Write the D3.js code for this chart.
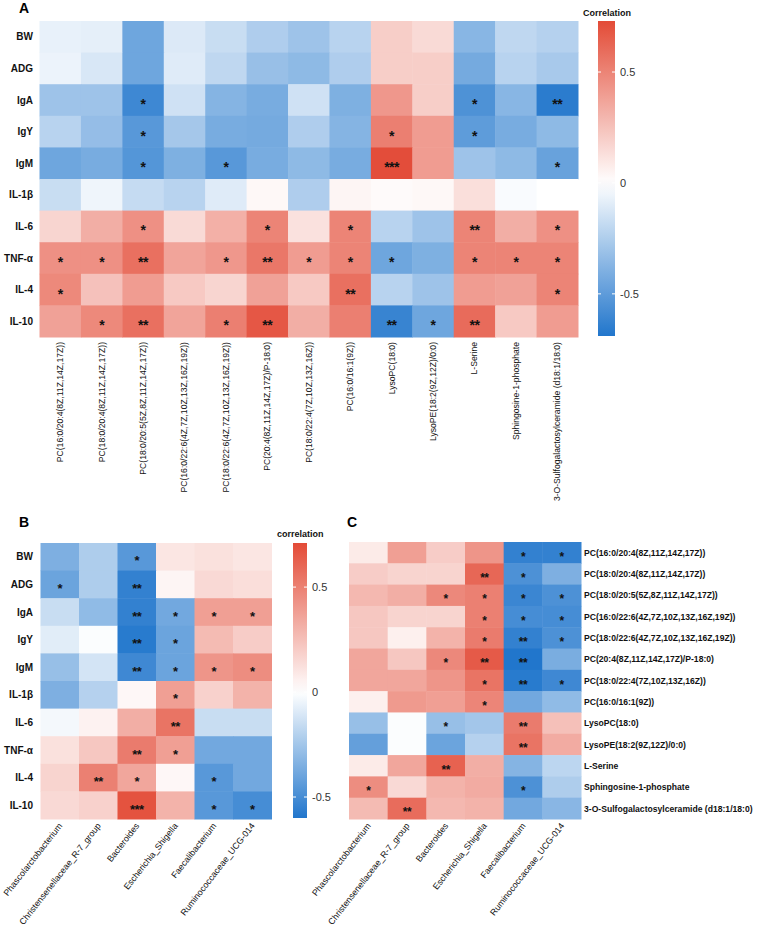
<!DOCTYPE html>
<html><head><meta charset="utf-8">
<script src="https://cdn.jsdelivr.net/npm/d3@7"></script>
<style>
body{margin:0;background:#fff;}
text{font-family:"Liberation Sans",Arial,sans-serif;}
</style></head>
<body>
<svg id="chart" width="757" height="937"></svg>
<script>
// ---------- DATA ----------
const hostRows = ["BW","ADG","IgA","IgY","IgM","IL-1β","IL-6","TNF-α","IL-4","IL-10"];
const metabolites = [
  "PC(16:0/20:4(8Z,11Z,14Z,17Z))",
  "PC(18:0/20:4(8Z,11Z,14Z,17Z))",
  "PC(18:0/20:5(5Z,8Z,11Z,14Z,17Z))",
  "PC(16:0/22:6(4Z,7Z,10Z,13Z,16Z,19Z))",
  "PC(18:0/22:6(4Z,7Z,10Z,13Z,16Z,19Z))",
  "PC(20:4(8Z,11Z,14Z,17Z)/P-18:0)",
  "PC(18:0/22:4(7Z,10Z,13Z,16Z))",
  "PC(16:0/16:1(9Z))",
  "LysoPC(18:0)",
  "LysoPE(18:2(9Z,12Z)/0:0)",
  "L-Serine",
  "Sphingosine-1-phosphate",
  "3-O-Sulfogalactosylceramide (d18:1/18:0)"
];
const bacteria = ["Phascolarctobacterium","Christensenellaceae_R-7_group","Bacteroides","Escherichia_Shigella","Faecalibacterium","Ruminococcaceae_UCG-014"];

// Panel A: rows = hostRows, cols = metabolites
const valuesA = [
  [-0.07,-0.08,-0.45,-0.11,-0.17,-0.25,-0.30,-0.22, 0.20, 0.15,-0.37,-0.20,-0.23],
  [-0.06,-0.12,-0.45,-0.10,-0.20,-0.32,-0.35,-0.25, 0.20, 0.20,-0.43,-0.22,-0.27],
  [-0.30,-0.30,-0.60,-0.15,-0.38,-0.42,-0.15,-0.40, 0.42, 0.20,-0.55,-0.37,-0.66],
  [-0.22,-0.33,-0.52,-0.28,-0.42,-0.43,-0.25,-0.38, 0.52, 0.40,-0.50,-0.42,-0.35],
  [-0.45,-0.42,-0.53,-0.40,-0.52,-0.42,-0.35,-0.42, 0.72, 0.40,-0.30,-0.35,-0.47],
  [-0.17,-0.05,-0.18,-0.22,-0.10, 0.03,-0.25, 0.04, 0.02, 0.03, 0.13,-0.02, 0.00],
  [ 0.17, 0.33, 0.45, 0.15, 0.32, 0.50, 0.12, 0.50,-0.22,-0.30, 0.50, 0.33, 0.45],
  [ 0.45, 0.45, 0.58, 0.37, 0.42, 0.55, 0.40, 0.50,-0.45,-0.40, 0.50, 0.50, 0.50],
  [ 0.48, 0.25, 0.40, 0.22, 0.17, 0.38, 0.22, 0.58,-0.22,-0.30, 0.40, 0.38, 0.50],
  [ 0.38, 0.48, 0.58, 0.37, 0.52, 0.68, 0.33, 0.52,-0.62,-0.45, 0.60, 0.22, 0.40]
];
const starsA = [
  ["","","","","","","","","","","","",""],
  ["","","","","","","","","","","","",""],
  ["","","*","","","","","","","","*","","**"],
  ["","","*","","","","","","*","","*","",""],
  ["","","*","","*","","","","***","","","","*"],
  ["","","","","","","","","","","","",""],
  ["","","*","","","*","","*","","","**","","*"],
  ["*","*","**","","*","**","*","*","*","","*","*","*"],
  ["*","","","","","","","**","","","","","*"],
  ["","*","**","","*","**","","","**","*","**","",""]
];

// Panel B: rows = hostRows, cols = bacteria
const valuesB = [
  [-0.35,-0.22,-0.45, 0.10, 0.12, 0.10],
  [-0.40,-0.22,-0.55, 0.04, 0.15, 0.13],
  [-0.15,-0.30,-0.55,-0.38, 0.38, 0.38],
  [-0.08,-0.01,-0.58,-0.40, 0.27, 0.20],
  [-0.28,-0.12,-0.52,-0.40, 0.42, 0.45],
  [-0.35,-0.20, 0.03, 0.38, 0.18, 0.30],
  [-0.03, 0.05, 0.32, 0.55,-0.15,-0.15],
  [ 0.12, 0.22, 0.52, 0.38,-0.38,-0.38],
  [ 0.17, 0.50, 0.35, 0.03,-0.45,-0.38],
  [ 0.15, 0.18, 0.68, 0.30,-0.45,-0.50]
];
const starsB = [
  ["","","*","","",""],
  ["*","","**","","",""],
  ["","","**","*","*","*"],
  ["","","**","*","",""],
  ["","","**","*","*","*"],
  ["","","","*","",""],
  ["","","","**","",""],
  ["","","**","*","",""],
  ["","**","*","","*",""],
  ["","","***","","*","*"]
];

// Panel C: rows = metabolites, cols = bacteria
const valuesC = [
  [ 0.08, 0.38, 0.20, 0.42,-0.55,-0.55],
  [ 0.20, 0.17, 0.17, 0.60,-0.48,-0.35],
  [ 0.28, 0.32, 0.47, 0.50,-0.53,-0.48],
  [ 0.22, 0.17, 0.17, 0.50,-0.50,-0.50],
  [ 0.22, 0.06, 0.30, 0.52,-0.55,-0.48],
  [ 0.35, 0.22, 0.47, 0.65,-0.60,-0.36],
  [ 0.35, 0.35, 0.42, 0.55,-0.58,-0.52],
  [ 0.06, 0.40, 0.38, 0.48,-0.38,-0.30],
  [-0.28,-0.01,-0.28,-0.25, 0.52, 0.25],
  [-0.42,-0.01,-0.40,-0.20, 0.55, 0.33],
  [ 0.08, 0.35, 0.62, 0.32,-0.33,-0.18],
  [ 0.45, 0.15, 0.30, 0.33,-0.48,-0.22],
  [ 0.27, 0.58, 0.28, 0.30,-0.38,-0.32]
];
const starsC = [
  ["","","","","*","*"],
  ["","","","**","*",""],
  ["","","*","*","*","*"],
  ["","","","*","*","*"],
  ["","","","*","**","*"],
  ["","","*","**","**",""],
  ["","","","*","**","*"],
  ["","","","*","",""],
  ["","","*","","**",""],
  ["","","","","**",""],
  ["","","**","","",""],
  ["*","","","","*",""],
  ["","**","","","",""]
];

const legendA = {title:"Correlation", min:-0.69, max:0.73, ticks:[-0.5,0,0.5]};
const legendB = {title:"correlation", min:-0.60, max:0.71, ticks:[-0.5,0,0.5]};

// ---------- DRAW ----------
const svg = d3.select("#chart");
const BLUE = "#2176CC", RED = "#E34B37";
function colorScale(min,max){
  return d3.scaleLinear().domain([min,0,max]).range([BLUE,"#FFFFFF",RED]).interpolate(d3.interpolateRgb).clamp(true);
}

function heatmap(opts){
  const {rows, cols, values, stars, x0, x1, y0, y1, color} = opts;
  const x = d3.scaleBand().domain(d3.range(cols.length)).range([x0,x1]);
  const y = d3.scaleBand().domain(d3.range(rows.length)).range([y0,y1]);
  const g = svg.append("g");
  rows.forEach((r,i)=>{
    cols.forEach((c,j)=>{
      g.append("rect").attr("x",x(j)).attr("y",y(i))
        .attr("width",x.bandwidth()+0.5).attr("height",y.bandwidth()+0.5)
        .attr("fill",color(values[i][j]));
    });
  });
  rows.forEach((r,i)=>{
    cols.forEach((c,j)=>{
      if(stars[i][j]){
        g.append("text").attr("x",x(j)+x.bandwidth()/2).attr("y",y(i)+y.bandwidth()/2+opts.starDy)
          .attr("text-anchor","middle").attr("font-size",opts.starSize).attr("font-weight","bold")
          .attr("letter-spacing",-0.5).attr("fill","#111").text(stars[i][j]);
      }
    });
  });
  return {x,y,g};
}

function colorbar(o){
  const {x0,w,y0,y1,min,max,title,ticks,id,titleX,titleY,color} = o;
  const ys = d3.scaleLinear().domain([min,max]).range([y1,y0]);
  const grad = svg.append("defs").append("linearGradient").attr("id",id)
    .attr("x1",0).attr("y1",1).attr("x2",0).attr("y2",0);
  d3.range(0,1.0001,0.05).forEach(t=>{
    const v = min + t*(max-min);
    grad.append("stop").attr("offset",t).attr("stop-color",color(v));
  });
  svg.append("rect").attr("x",x0).attr("y",y0).attr("width",w).attr("height",y1-y0)
    .attr("fill",`url(#${id})`);
  ticks.forEach(t=>{
    const yy = ys(t);
    svg.append("line").attr("x1",x0).attr("x2",x0+3).attr("y1",yy).attr("y2",yy).attr("stroke","#fff").attr("stroke-width",1);
    svg.append("line").attr("x1",x0+w-3).attr("x2",x0+w).attr("y1",yy).attr("y2",yy).attr("stroke","#fff").attr("stroke-width",1);
    svg.append("text").attr("x",x0+w+5).attr("y",yy+4).attr("font-size",11).attr("fill","#333").text(t);
  });
  svg.append("text").attr("x",titleX).attr("y",titleY).attr("font-size",9).attr("font-weight","bold").attr("fill","#111").text(title);
}

// Panel A
const colA = colorScale(legendA.min, legendA.max);
const A = heatmap({rows:hostRows, cols:metabolites, values:valuesA, stars:starsA, x0:39.5, x1:578, y0:21, y1:337, color:colA, starSize:14, starDy:9});
hostRows.forEach((r,i)=>{
  svg.append("text").attr("x",33).attr("y",A.y(i)+A.y.bandwidth()/2+3.5)
    .attr("text-anchor","end").attr("font-size",10).attr("font-weight","bold").attr("fill","#111").text(r);
});
metabolites.forEach((m,j)=>{
  const cx = A.x(j)+A.x.bandwidth()/2+3;
  svg.append("text").attr("transform",`translate(${cx},342) rotate(-90)`)
    .attr("text-anchor","end").attr("font-size",8.6).attr("fill","#111").text(m);
});
colorbar({x0:598,w:17,y0:21,y1:336,min:legendA.min,max:legendA.max,title:legendA.title,ticks:legendA.ticks,id:"gA",titleX:583,titleY:16,color:colA});
svg.append("text").attr("x",19).attr("y",13).attr("font-size",14).attr("font-weight","bold").text("A");

// Panel B
const colB = colorScale(legendB.min, legendB.max);
const B = heatmap({rows:hostRows, cols:bacteria, values:valuesB, stars:starsB, x0:40.5, x1:271.5, y0:543, y1:819, color:colB, starSize:13, starDy:8.5});
hostRows.forEach((r,i)=>{
  svg.append("text").attr("x",33).attr("y",B.y(i)+B.y.bandwidth()/2+3.5)
    .attr("text-anchor","end").attr("font-size",10).attr("font-weight","bold").attr("fill","#111").text(r);
});
bacteria.forEach((b,j)=>{
  const cx = B.x(j)+B.x.bandwidth()/2+3;
  svg.append("text").attr("transform",`translate(${cx},826) rotate(-52)`)
    .attr("text-anchor","end").attr("font-size",8.8).attr("fill","#111").text(b);
});
colorbar({x0:293,w:14,y0:543,y1:818,min:legendB.min,max:legendB.max,title:legendB.title,ticks:legendB.ticks,id:"gB",titleX:277,titleY:537,color:colB});
svg.append("text").attr("x",19).attr("y",527).attr("font-size",14).attr("font-weight","bold").text("B");

// Panel C
const C = heatmap({rows:metabolites, cols:bacteria, values:valuesC, stars:starsC, x0:349, x1:581, y0:542, y1:819, color:colB, starSize:12, starDy:8});
metabolites.forEach((m,i)=>{
  svg.append("text").attr("x",584).attr("y",C.y(i)+C.y.bandwidth()/2+3.2)
    .attr("text-anchor","start").attr("font-size",8.6).attr("font-weight","bold").attr("fill","#111").text(m);
});
bacteria.forEach((b,j)=>{
  const cx = C.x(j)+C.x.bandwidth()/2+3;
  svg.append("text").attr("transform",`translate(${cx},826) rotate(-52)`)
    .attr("text-anchor","end").attr("font-size",8.8).attr("fill","#111").text(b);
});
svg.append("text").attr("x",347).attr("y",527).attr("font-size",14).attr("font-weight","bold").text("C");
</script>
</body></html>
